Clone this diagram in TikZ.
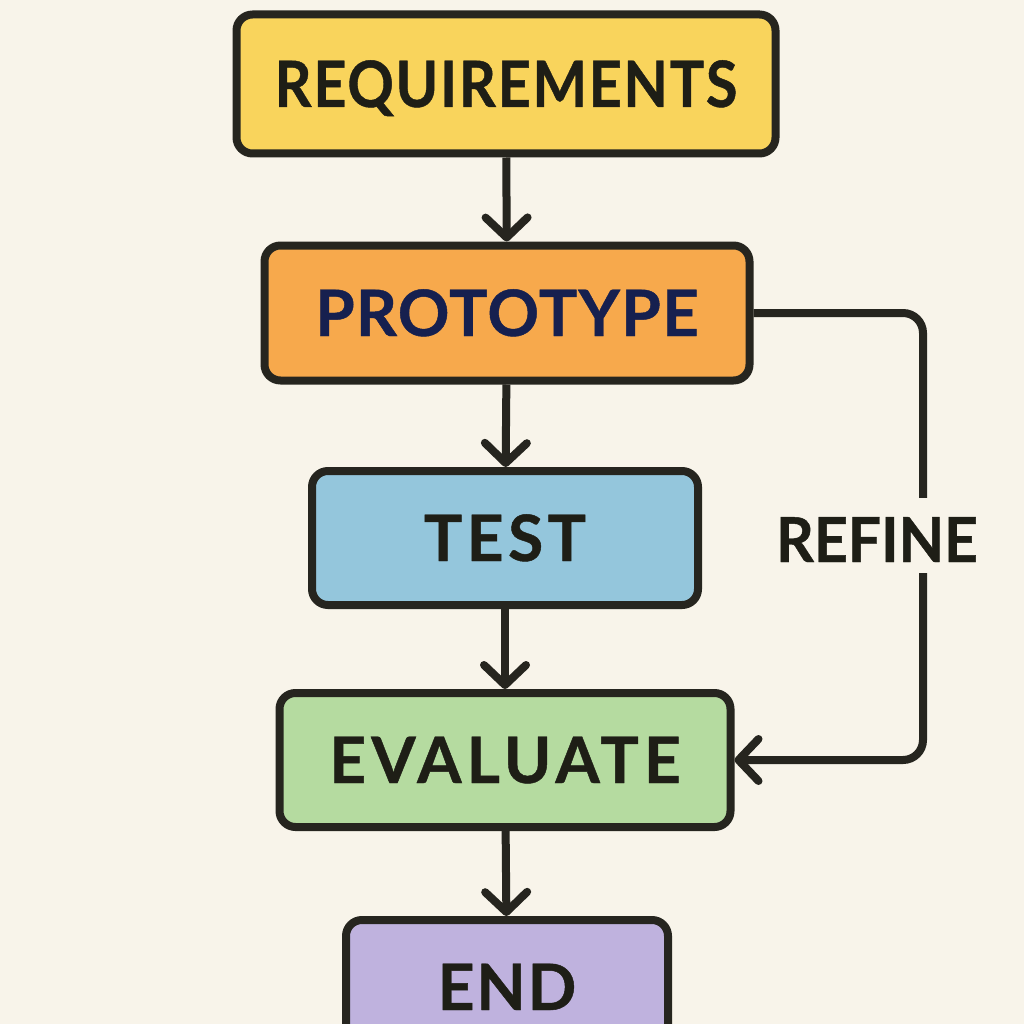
\documentclass[tikz,border=0pt]{standalone}
\usepackage{fontspec}
\setmainfont{Lato}
\usetikzlibrary{arrows.meta}
\definecolor{bg}{HTML}{F8F4EA}
\definecolor{ink}{HTML}{26251F}
\definecolor{cyel}{HTML}{F9D45C}
\definecolor{cora}{HTML}{F7A94C}
\definecolor{cblu}{HTML}{94C6DC}
\definecolor{cgrn}{HTML}{B5DBA0}
\definecolor{cpur}{HTML}{BFB2DE}
\definecolor{navy}{HTML}{16204F}
\definecolor{txt}{HTML}{1E1E16}
\newcommand{\lab}[2]{{\addfontfeatures{LetterSpace=#1,FakeBold=0.7}#2}}
\tikzset{
 x=1pt,y=-1pt,
 stage/.style={draw=ink,line width=8pt,rounded corners=16pt,inner sep=0pt,text height=46pt,text depth=0pt,font=\fontsize{64}{64}\selectfont\bfseries,text=txt},
 flow/.style={draw=ink,line width=8pt,-{Straight Barb[length=20pt,width=42pt,line width=8pt,round]}}
}
\begin{document}
\begin{tikzpicture}
\useasboundingbox (0,0) rectangle (1024,1024);
\fill[bg] (0,0) rectangle (1024,1024);
\node[stage,fill=cyel,minimum width=539pt,minimum height=139pt] (req) at (506,84) {\scalebox{0.9}[1]{\lab{3}{REQUIREMENTS}}};
\node[stage,fill=cora,minimum width=485pt,minimum height=135pt,text=navy] (pro) at (507,313) {\lab{2}{PROTOTYPE}};
\node[stage,fill=cblu,minimum width=386pt,minimum height=134pt] (tes) at (505,538) {\lab{7}{TEST}};
\node[stage,fill=cgrn,minimum width=451pt,minimum height=134pt] (eva) at (505,760) {\lab{8}{EVALUATE}};
\begin{scope}
\clip (0,0) rectangle (1024,1024);
\node[stage,fill=cpur,minimum width=322pt,minimum height=134pt] (end) at (507,987) {\lab{3}{END}};
\end{scope}
\coordinate (c1) at (923,313);
\coordinate (c2) at (923,760);
\draw[flow] (req) -- (pro);
\draw[flow] (pro) -- (tes);
\draw[flow] (tes) -- (eva);
\draw[flow] (eva) -- (end);
\draw[flow,rounded corners=20pt] (pro.east) -- (c1) -- (c2) -- (eva.east);
\node[fill=bg,inner sep=0pt,text height=64pt,text depth=11pt,font=\fontsize{62}{62}\selectfont\bfseries,text=txt] (ref) at (877,535.5) {\scalebox{0.95}[1]{\lab{0}{REFINE}}};
\end{tikzpicture}
\end{document}
